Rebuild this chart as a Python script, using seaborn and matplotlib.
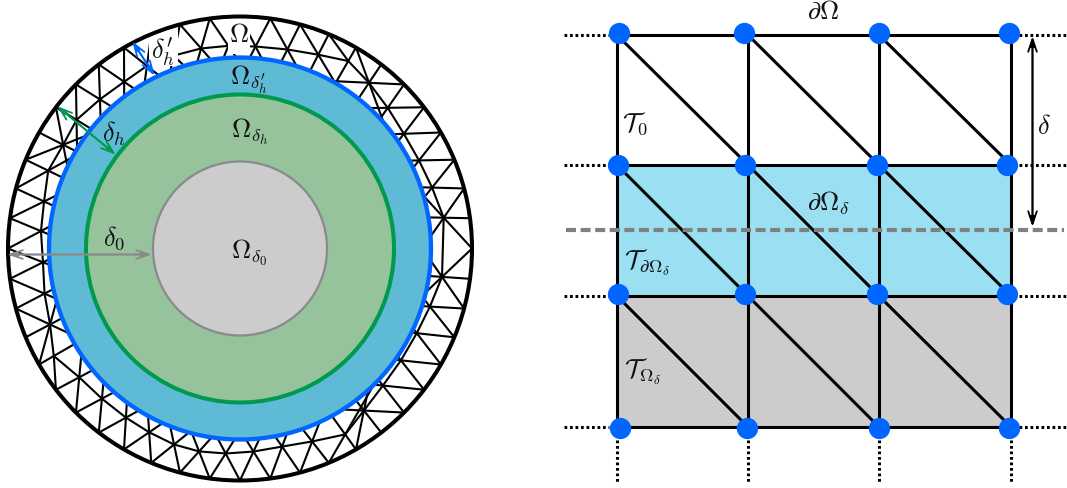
import numpy as np
import pandas as pd
import seaborn as sns
import matplotlib.pyplot as plt
from matplotlib.patches import Circle, Rectangle

# left panel: radii of the nested discs
center_x, center_y = 239.5, 249
r_outer, r_blue, r_green, r_gray = 232, 191, 154, 87

# mesh nodes (polar angle in degrees, radius)
outer_angle = [0, 7.5, 15, 22.5, 30, 37.5, 45, 52.5, 60, 67.5, 75, 82.5, 90, 97.5, 105, 112.5,
               120, 127.5, 135, 142.5, 150, 157.5, 165, 172.5, 180, 187.5, 195, 202.5, 210,
               217.5, 225, 232.5, 240, 247.5, 255, 262.5, 270, 277.5, 285, 292.5, 300, 307.5,
               315, 322.5, 330, 337.5, 345, 352.5]
mid_angle = [8.6, 17.6, 26.2, 35, 43.6, 52.1, 60, 68, 76.6, 85.6, 93.3, 101, 109, 117, 124.8,
             133.2, 141.8, 149.6, 157.9, 166.5, 175, 184, 193, 201.8, 210, 218.7, 227.4, 236,
             243.7, 251.4, 258.6, 266, 273.8, 282, 290.5, 299.5, 307.4, 316.2, 325.2, 334.4,
             343, 352]
mid_radius = [206, 201.5, 199.5, 200, 204, 210, 216.5, 209, 204.6, 202.6, 203, 203.8, 204, 205,
              203, 204.6, 208, 205, 207, 201.5, 199.8, 197.5, 200.6, 204.6, 215, 206, 204, 204,
              205, 206.8, 207, 205.5, 203.5, 202.5, 206, 213.6, 204, 198, 196, 196, 198.6, 204]

# right panel: grid
grid_x = [616, 747, 878, 1010]
grid_y = [35, 165, 296, 427]
node_x = [619, 744, 879, 1009, 618, 745, 877, 1007, 618, 745, 877, 1007, 620, 747, 879, 1009]
node_y = [34, 34, 34, 34, 166, 166, 166, 166, 295, 295, 295, 295, 429, 429, 429, 429]
dash_y = 230

BLACK = '#000000'
BLUE = '#0066ff'
GREEN = '#009a4e'
GRAY = '#8a8a8a'


def polar(angle, radius):
    a = np.radians(angle)
    return center_x + radius * np.cos(a), center_y - radius * np.sin(a)


def strip_edges(a1, r1, a2, r2):
    # zigzag between two rings, always stepping the node that comes first
    edges = []
    n1, n2 = len(a1), len(a2)
    i, j = 0, 0
    while i < n1 or j < n2:
        edges.append((polar(a1[i % n1], r1[i % n1]), polar(a2[j % n2], r2[j % n2])))
        next1 = a1[i + 1] if i + 1 < n1 else a1[0] + 360
        next2 = a2[j + 1] if j + 1 < n2 else a2[0] + 360
        if (next1 <= next2 and i < n1) or j >= n2:
            i += 1
        else:
            j += 1
    return edges


def extend_inward(p, q):
    # carry a spoke on past its mid node until it goes under the blue disc
    for t in np.linspace(0, 3, 61):
        x = q[0] + t * (q[0] - p[0])
        y = q[1] + t * (q[1] - p[1])
        if np.hypot(x - center_x, y - center_y) < 186:
            return (x, y)
    return q


def edges_frame(edges):
    rows = []
    for k, (p, q) in enumerate(edges):
        rows.append((k, p[0], p[1]))
        rows.append((k, q[0], q[1]))
    return pd.DataFrame(rows, columns=['edge', 'x', 'y'])


def draw_edges(ax, edges, color, lw, **kw):
    sns.lineplot(data=edges_frame(edges), x='x', y='y', units='edge', estimator=None, sort=False,
                 color=color, lw=lw, legend=False, ax=ax, **kw)


sns.set_theme(style='white')
plt.rcParams['mathtext.fontset'] = 'cm'

fig = plt.figure(figsize=(10.67, 4.89), dpi=100)
ax = fig.add_axes([0, 0, 1, 1])

# mesh of the boundary layer
out_r = [r_outer] * len(outer_angle)
spokes = strip_edges(outer_angle, out_r, mid_angle, mid_radius)
mesh = [(p, extend_inward(p, q)) for p, q in spokes]
mesh += [(polar(a, r), polar(b, s)) for a, r, b, s in
         zip(mid_angle, mid_radius, mid_angle[1:] + mid_angle[:1], mid_radius[1:] + mid_radius[:1])]
draw_edges(ax, mesh, BLACK, 1.5)

# white patches behind the two labels that sit on the mesh
ax.add_patch(Rectangle((227, 17), 22, 37, fc='white', ec='none', zorder=2))
ax.add_patch(Rectangle((148, 30), 29, 36, fc='white', ec='none', zorder=2))

ax.add_patch(Circle((center_x, center_y), r_outer, fc='none', ec=BLACK, lw=2.9, zorder=3))
ax.add_patch(Circle((center_x, center_y), r_blue, fc='#5fbad6', ec=BLUE, lw=3.1, zorder=4))
ax.add_patch(Circle((center_x, center_y), r_green, fc='#96c29c', ec=GREEN, lw=2.9, zorder=5))
ax.add_patch(Circle((center_x, center_y), r_gray, fc='#cccccc', ec=GRAY, lw=1.6, zorder=6))


def arrow(start, end, color, lw=1.3):
    # open head over a small filled one, close to a stealth tip
    for style in ('<->,head_length=0.75,head_width=0.26', '<|-|>,head_length=0.45,head_width=0.14'):
        ax.annotate('', xy=end, xytext=start, zorder=10,
                    arrowprops=dict(arrowstyle=style, color=color, lw=lw, shrinkA=0, shrinkB=0))


arrow((132, 42), (154, 76), BLUE)
arrow((57, 107), (115, 155), GREEN)
arrow((7, 255), (151, 255), GRAY)

# right panel fills
ax.add_patch(Rectangle((grid_x[0], grid_y[1]), grid_x[3] - grid_x[0], grid_y[2] - grid_y[1],
                       fc='#9bdff3', ec='none', zorder=1))
ax.add_patch(Rectangle((grid_x[0], grid_y[2]), grid_x[3] - grid_x[0], grid_y[3] - grid_y[2],
                       fc='#cccccc', ec='none', zorder=1))

lines = []
for y in grid_y:
    lines.append(((grid_x[0], y), (grid_x[3], y)))
for x in grid_x:
    lines.append(((x, grid_y[0]), (x, grid_y[3])))
for i in range(3):
    for j in range(3):
        lines.append(((grid_x[i], grid_y[j]), (grid_x[i + 1], grid_y[j + 1])))
draw_edges(ax, lines, BLACK, 2.2, zorder=3)

dotted = []
for y in grid_y:
    dotted.append(((563, y), (608, y)))
    dotted.append(((1018, y), (1067, y)))
for x in grid_x:
    dotted.append(((x, 440), (x, 483)))
draw_edges(ax, dotted, BLACK, 2.2, zorder=3, dashes=False, linestyle=(0, (0.9, 0.9)))

sns.lineplot(x=[565, 1063], y=[dash_y, dash_y], color='#808080', lw=3, ax=ax, zorder=4,
             linestyle=(0, (2.4, 1.1)), estimator=None, sort=False)
sns.scatterplot(x=node_x, y=node_y, s=235, color=BLUE, edgecolor='none', ax=ax, zorder=6,
                legend=False)
arrow((1032, 37), (1032, 227), BLACK)

# labels
label_kw = dict(ha='center', va='center', color='#111111', fontsize=19, zorder=9)
ax.text(238, 35, r'$\Omega$', **label_kw)
ax.text(162, 51, r"$\delta^{\prime}_{h}$", **label_kw)
ax.text(248, 79, r"$\Omega_{\delta^{\prime}_{h}}$", **label_kw)
ax.text(249, 131, r'$\Omega_{\delta_h}$', **label_kw)
ax.text(249, 252, r'$\Omega_{\delta_0}$', **label_kw)
ax.text(114, 238, r'$\delta_0$', **label_kw)
ax.text(113, 133, r'$\delta_h$', **label_kw)
ax.text(823, 12, r'$\partial\Omega$', **label_kw)
ax.text(635, 123, r'$\mathcal{T}_0$', **label_kw)
ax.text(828, 203, r'$\partial\Omega_\delta$', **label_kw)
ax.text(647, 262, r'$\mathcal{T}_{\partial\Omega_\delta}$', **label_kw)
ax.text(642, 371, r'$\mathcal{T}_{\Omega_\delta}$', **label_kw)
ax.text(1043, 127, r'$\delta$', **label_kw)

ax.set_xlim(-0.5, 1066.5)
ax.set_ylim(488.5, -0.5)
ax.axis('off')
fig.savefig('out.png', dpi=100)
